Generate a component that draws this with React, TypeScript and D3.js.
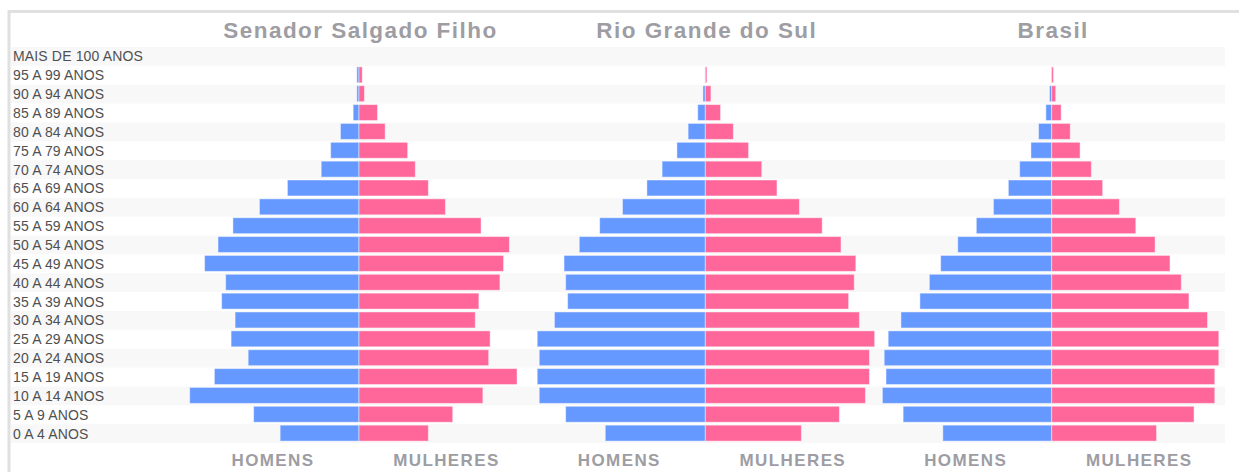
import React from 'react'
import * as d3 from 'd3'

// faixas etárias, de cima para baixo
const ageGroups = [
  'MAIS DE 100 ANOS', '95 A 99 ANOS', '90 A 94 ANOS', '85 A 89 ANOS', '80 A 84 ANOS',
  '75 A 79 ANOS', '70 A 74 ANOS', '65 A 69 ANOS', '60 A 64 ANOS', '55 A 59 ANOS',
  '50 A 54 ANOS', '45 A 49 ANOS', '40 A 44 ANOS', '35 A 39 ANOS', '30 A 34 ANOS',
  '25 A 29 ANOS', '20 A 24 ANOS', '15 A 19 ANOS', '10 A 14 ANOS', '5 A 9 ANOS', '0 A 4 ANOS',
]

const panelTitles = ['Senador Salgado Filho', 'Rio Grande do Sul', 'Brasil']

// % da população (estimado do gráfico)
const senadorHomens = [0, 0.06, 0.06, 0.16, 0.51, 0.78, 1.04, 1.97, 2.74, 3.47, 3.88, 4.25, 3.67, 3.78, 3.41, 3.52, 3.05, 3.98, 4.66, 2.90, 2.17]
const senadorMulheres = [0, 0.09, 0.15, 0.51, 0.72, 1.34, 1.55, 1.91, 2.38, 3.36, 4.14, 3.98, 3.88, 3.30, 3.20, 3.61, 3.57, 4.35, 3.41, 2.58, 1.91]

const rsHomens = [0, 0.01, 0.06, 0.19, 0.43, 0.71, 1.08, 1.46, 2.07, 2.64, 3.15, 3.53, 3.49, 3.44, 3.77, 4.20, 4.15, 4.20, 4.15, 3.49, 2.50]
const rsMulheres = [0, 0.04, 0.14, 0.38, 0.70, 1.08, 1.41, 1.79, 2.35, 2.92, 3.39, 3.76, 3.72, 3.58, 3.85, 4.23, 4.10, 4.10, 4.00, 3.35, 2.40]

const brHomens = [0, 0.01, 0.06, 0.16, 0.36, 0.57, 0.88, 1.19, 1.60, 2.07, 2.58, 3.05, 3.36, 3.62, 4.14, 4.49, 4.60, 4.55, 4.65, 4.08, 2.99]
const brMulheres = [0, 0.05, 0.11, 0.26, 0.51, 0.78, 1.09, 1.40, 1.86, 2.31, 2.84, 3.25, 3.56, 3.77, 4.28, 4.59, 4.59, 4.48, 4.48, 3.91, 2.88]

const seriesHomens = [senadorHomens, rsHomens, brHomens]
const seriesMulheres = [senadorMulheres, rsMulheres, brMulheres]

const width = 1239
const height = 472
const font = '"Liberation Sans", Arial, sans-serif'
const blue = '#6699ff'
const pink = '#ff6699'

export default function App() {
  const yScale = d3.scaleBand<string>()
    .domain(ageGroups)
    .range([47, 443])
    .padding(0)

  const panelScale = d3.scaleBand<string>()
    .domain(panelTitles)
    .range([185.8, 1224.85])

  const half = 169.3

  return (
    <svg
      width={width}
      height={height}
      style={{ position: 'absolute', left: 0, top: 0, display: 'block' }}
    >
      <rect x={0} y={0} width={width} height={height} fill='#fff' />
      {/* moldura */}
      <line x1={8} x2={width} y1={11.5} y2={11.5} stroke='#e0e0e0' strokeWidth={3} />
      <line x1={9} x2={9} y1={10} y2={height} stroke='#e0e0e0' strokeWidth={3} />

      {/* faixas alternadas */}
      {ageGroups.map((a, i) => i % 2 === 0 ? (
        <rect key={'band' + a} x={11} width={1214} y={yScale(a)} height={yScale.bandwidth()} fill='#f8f8f8' />
      ) : null)}

      {ageGroups.map(a => (
        <text key={'lbl' + a} x={13} y={(yScale(a) as number) + yScale.bandwidth() / 2 + 5}
          fontFamily={font} fontSize={14} letterSpacing={0.15} fill='#505050'>{a}</text>
      ))}

      {panelTitles.map((t, p) => {
        const cx = (panelScale(t) as number) + panelScale.bandwidth() / 2
        const homens = seriesHomens[p]
        const mulheres = seriesMulheres[p]
        const x = d3.scaleLinear()
          .domain([0, d3.max([...homens, ...mulheres]) as number])
          .range([0, half])
        return (
          <g key={t}>
            <text x={cx + 1.5} y={38} textAnchor='middle' fontFamily={font} fontWeight='bold'
              fontSize={22.5} letterSpacing={1.45} fill='#9d9da3'>{t}</text>
            {ageGroups.map((a, i) => {
              const y0 = (yScale(a) as number) + 1
              const h = yScale.bandwidth() - 2.9
              return (
                <g key={a}>
                  {homens[i] > 0 && (
                    <rect x={cx - x(homens[i])} y={y0} width={x(homens[i])} height={h}
                      fill={blue} stroke='#ffffff' strokeOpacity={0.45} strokeWidth={1} />
                  )}
                  {mulheres[i] > 0 && (
                    <rect x={cx} y={y0} width={x(mulheres[i])} height={h}
                      fill={pink} stroke='#ffffff' strokeOpacity={0.45} strokeWidth={1} />
                  )}
                </g>
              )
            })}
            <text x={cx - 86} y={466} textAnchor='middle' fontFamily={font} fontWeight='bold'
              fontSize={17} letterSpacing={1.4} fill='#9d9da3'>HOMENS</text>
            <text x={cx + 87.5} y={466} textAnchor='middle' fontFamily={font} fontWeight='bold'
              fontSize={17} letterSpacing={1.4} fill='#9d9da3'>MULHERES</text>
          </g>
        )
      })}
    </svg>
  )
}
